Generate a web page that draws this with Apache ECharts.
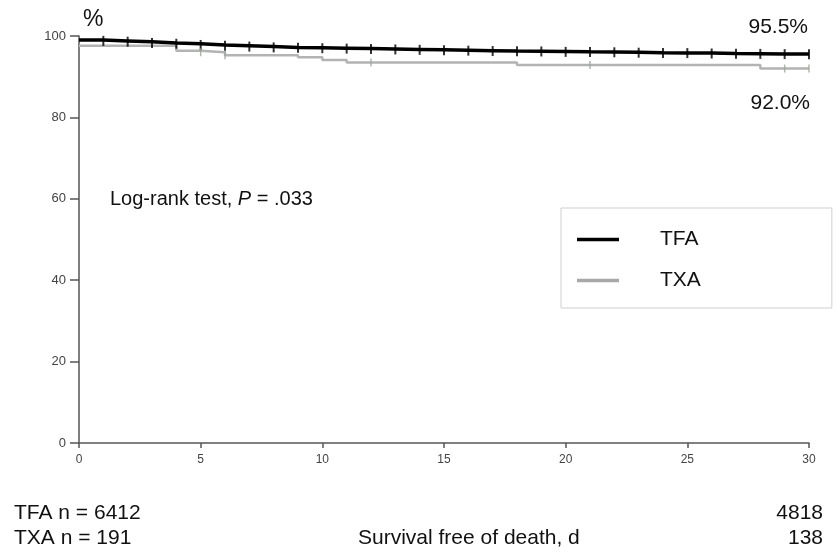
<!DOCTYPE html>
<html>
<head>
<meta charset="utf-8">
<script src="https://cdn.jsdelivr.net/npm/echarts@6/dist/echarts.min.js"></script>
<style>
html,body{margin:0;padding:0;background:#fff;}
#chart{width:837px;height:553px;}
</style>
</head>
<body>
<div id="chart"></div>
<script>
// ---- data ----
const tfaDays = [0,1,2,3,4,5,6,7,8,9,10,11,12,13,14,15,16,17,18,19,20,21,22,23,24,25,26,27,28,29,30];
const tfaSurv = [99.0,98.8,98.6,98.3,98.1,97.8,97.6,97.4,97.2,97.1,97.0,96.9,96.8,96.7,96.6,96.5,96.4,96.3,96.25,96.2,96.1,96.05,96.0,95.9,95.85,95.8,95.7,95.65,95.6,95.55,95.5];
const tfaCensorDays = [1,2,3,4,5,6,7,8,9,10,11,12,13,14,15,16,17,18,19,20,21,22,23,24,25,26,27,28,29,30];

const txaDays = [0,4,5,6,9,10,11,18,28,30];
const txaSurv = [97.6,96.4,96.0,95.3,94.8,94.1,93.5,92.9,92.0,92.0];
const txaCensorDays = [5,6,12,21,29,30];

const xTicks = [0,5,10,15,20,25,30];
const yTicks = [0,20,40,60,80,100];
const seriesNames = ['TFA','TXA'];
const nLabels = ['TFA n = 6412','TXA n = 191'];
const endCounts = ['4818','138'];
const finalLabels = ['95.5%','92.0%'];

function survAt(days, surv, t){
  let v = surv[0];
  for(let i=0;i<days.length;i++){ if(days[i] <= t) v = surv[i]; }
  return v;
}
const tfaLine = tfaDays.map((d,i)=>[d,tfaSurv[i]]);
const txaLine = txaDays.map((d,i)=>[d,txaSurv[i]]);
const tfaCens = tfaCensorDays.map(d=>[d,survAt(tfaDays,tfaSurv,d)]);
const txaCens = txaCensorDays.map(d=>[d,survAt(txaDays,txaSurv,d)]);

const FONT = '"Liberation Sans", Arial, Helvetica, sans-serif';
const chart = echarts.init(document.getElementById('chart'), null, {renderer:'canvas'});

chart.setOption({
  animation:false,
  backgroundColor:'#fff',
  textStyle:{fontFamily:FONT},
  grid:{left:79,right:28,top:36,bottom:110,containLabel:false},
  xAxis:{
    type:'value',min:0,max:30,interval:5,
    axisLine:{lineStyle:{color:'#555',width:1.5}},
    axisTick:{show:true,length:5,lineStyle:{color:'#555',width:1.5}},
    axisLabel:{color:'#444',fontSize:12,margin:11,fontFamily:FONT,
      formatter:(v)=> xTicks.includes(v)? String(v):''},
    splitLine:{show:false}
  },
  yAxis:{
    type:'value',min:0,max:100,interval:20,
    axisLine:{show:true,lineStyle:{color:'#555',width:1.5}},
    axisTick:{show:true,length:9,lineStyle:{color:'#555',width:1.5}},
    axisLabel:{color:'#444',fontSize:13,margin:13,fontFamily:FONT,
      formatter:(v)=> yTicks.includes(v)? String(v):''},
    splitLine:{show:false}
  },
  legend:{
    data:[{name:seriesNames[0],icon:'rect',itemStyle:{color:'#000'}},
          {name:seriesNames[1],icon:'rect',itemStyle:{color:'#a8a8a8'}}],
    orient:'vertical',
    left:561, top:208,
    itemWidth:42, itemHeight:3.5,
    itemGap:20,
    padding:[21,131,17,16],
    borderColor:'#cfcfcf', borderWidth:1,
    selectedMode:false,
    textStyle:{fontSize:21,color:'#111',fontFamily:FONT,lineHeight:20,padding:[0,0,0,36]}
  },
  series:[
    {name:'TFA',type:'line',step:'end',data:tfaLine,symbol:'none',
     color:'#000',lineStyle:{color:'#000',width:3.5},z:5},
    {name:'TXA',type:'line',step:'end',data:txaLine,symbol:'none',
     color:'#aaaaaa',lineStyle:{color:'#b3b3b3',width:2.5},z:4},
    {name:'TFA censored',type:'scatter',data:tfaCens,symbol:'rect',symbolSize:[2,10],
     itemStyle:{color:'#000'},z:6},
    {name:'TXA censored',type:'scatter',data:txaCens,symbol:'rect',symbolSize:[1.5,8],
     itemStyle:{color:'#9aa59a'},z:6}
  ],
  graphic:[
    {type:'text',left:83,top:8,style:{text:'%',font:'23px '+FONT,fill:'#111'}},
    {type:'text',right:29,top:17,style:{text:finalLabels[0],font:'21px '+FONT,fill:'#111'}},
    {type:'text',right:27,top:93,style:{text:finalLabels[1],font:'21px '+FONT,fill:'#111'}},
    {type:'text',left:110,top:189,style:{
      text:'{n|Log-rank test, }{i|P}{n| = .033}',
      rich:{n:{fontSize:20,fontFamily:FONT,fill:'#111'},i:{fontSize:20,fontFamily:FONT,fontStyle:'italic',fill:'#111'}}
    }},
    {type:'text',left:14,top:503,style:{text:nLabels[0],font:'21px '+FONT,fill:'#111'}},
    {type:'text',left:14,top:528,style:{text:nLabels[1],font:'21px '+FONT,fill:'#111'}},
    {type:'text',left:358,top:528,style:{text:'Survival free of death, d',font:'21px '+FONT,fill:'#111'}},
    {type:'text',right:14,top:503,style:{text:endCounts[0],font:'21px '+FONT,fill:'#111'}},
    {type:'text',right:14,top:528,style:{text:endCounts[1],font:'21px '+FONT,fill:'#111'}}
  ]
});
</script>
</body>
</html>
